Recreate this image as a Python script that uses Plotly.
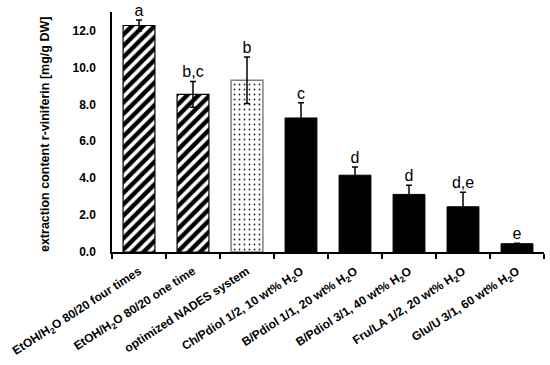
import plotly.graph_objects as go

categories = [
    "EtOH/H<sub>2</sub>O 80/20 four times",
    "EtOH/H<sub>2</sub>O 80/20 one time",
    "optimized NADES system",
    "Ch/Pdiol 1/2, 10 wt% H<sub>2</sub>O",
    "B/Pdiol 1/1, 20 wt% H<sub>2</sub>O",
    "B/Pdiol 3/1, 40 wt% H<sub>2</sub>O",
    "Fru/LA 1/2, 20 wt% H<sub>2</sub>O",
    "Glu/U 3/1, 60 wt% H<sub>2</sub>O",
]
values = [12.27, 8.54, 9.30, 7.26, 4.16, 3.12, 2.45, 0.45]
errors = [0.30, 0.70, 1.26, 0.83, 0.45, 0.50, 0.78, 0.03]
letters = ["a", "b,c", "b", "c", "d", "d", "d,e", "e"]
y_title = "extraction content r-viniferin [mg/g DW]"

FONT = "Arial, 'Liberation Sans', sans-serif"

fig = go.Figure()

hatch_idx = [0, 1]
dot_idx = [2]
solid_idx = [3, 4, 5, 6, 7]

def sub(idx, arr):
    return [arr[i] for i in idx]

err_style = dict(type="data", color="black", thickness=1.5, width=3)

fig.add_trace(go.Bar(
    x=sub(hatch_idx, categories), y=sub(hatch_idx, values),
    error_y=dict(array=sub(hatch_idx, errors), **err_style),
    marker=dict(color="white", line=dict(color="black", width=1.2),
                pattern=dict(shape="/", fgcolor="#000000", fgopacity=1, bgcolor="white",
                             size=8, solidity=0.55, fillmode="replace")),
    showlegend=False,
))
fig.add_trace(go.Bar(
    x=sub(dot_idx, categories), y=sub(dot_idx, values),
    error_y=dict(array=sub(dot_idx, errors), **err_style),
    marker=dict(color="white", line=dict(color="#808080", width=1.5),
                pattern=dict(shape=".", fgcolor="#222222", fgopacity=1, bgcolor="white",
                             size=5, solidity=0.1, fillmode="replace")),
    showlegend=False,
))
fig.add_trace(go.Bar(
    x=sub(solid_idx, categories), y=sub(solid_idx, values),
    error_y=dict(array=sub(solid_idx, errors), **err_style),
    marker=dict(color="black", line=dict(color="black", width=1)),
    showlegend=False,
))

fig.add_trace(go.Scatter(
    x=categories, y=[v + e for v, e in zip(values, errors)],
    mode="text", text=letters, textposition="top center",
    textfont=dict(family=FONT, size=16, color="black"),
    showlegend=False, cliponaxis=False,
))

fig.add_annotation(
    text=y_title, textangle=-90, showarrow=False,
    xref="paper", yref="paper", x=-0.155, y=0.4875,
    xanchor="center", yanchor="middle",
    font=dict(family=FONT, size=12.5, color="black", weight="bold"),
)

fig.update_layout(
    width=550, height=365,
    margin=dict(l=112, r=6, t=12, b=113),
    paper_bgcolor="white", plot_bgcolor="white",
    bargap=0.41, barmode="overlay",
    font=dict(family=FONT, color="black"),
    hovermode=False,
)
fig.update_xaxes(
    categoryorder="array", categoryarray=categories,
    showline=True, linecolor="black", linewidth=1.5,
    ticks="outside", ticklen=5, tickwidth=1.5, tickcolor="black",
    tickson="boundaries", tickangle=-33, ticklabelstandoff=6,
    tickfont=dict(family=FONT, size=12, color="black", weight="bold"),
    showgrid=False, automargin=False,
)
fig.update_yaxes(
    range=[0, 13], dtick=2, tickformat=".1f",
    showline=True, linecolor="black", linewidth=1.5,
    ticks="", ticklabelstandoff=12,
    tickfont=dict(family=FONT, size=12, color="black", weight="bold"),
    showgrid=False, zeroline=False, automargin=False,
)

fig.write_html(
    "out.html",
    config={"displayModeBar": False},
    post_script="document.body.style.margin='0';document.body.style.overflow='hidden';",
)
